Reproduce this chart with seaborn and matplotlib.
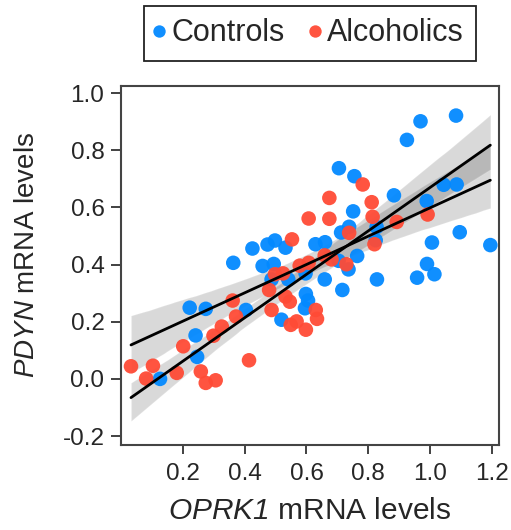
import matplotlib
matplotlib.use('Agg')
import matplotlib.pyplot as plt
import seaborn as sns
import pandas as pd

groups = ['Controls', 'Alcoholics']
colors = ['#0389FF', '#FF4B36']

ctrl_x = [0.969, 1.084, 0.925, 0.705, 0.755, 0.883, 1.044, 1.086, 0.989, 0.751,
          0.827, 0.738, 0.712, 1.096, 1.006, 1.195, 0.824, 0.629, 0.660, 0.764,
          0.704, 0.736, 0.597, 0.659, 0.716, 0.828, 0.990, 0.958, 1.014, 0.598,
          0.605, 0.595, 0.425, 0.474, 0.498, 0.532, 0.363, 0.458, 0.494, 0.487,
          0.541, 0.519, 0.404, 0.222, 0.274, 0.241, 0.246, 0.126]
ctrl_y = [0.901, 0.921, 0.836, 0.737, 0.709, 0.642, 0.679, 0.680, 0.622, 0.586,
          0.531, 0.532, 0.512, 0.513, 0.477, 0.468, 0.485, 0.471, 0.478, 0.430,
          0.413, 0.383, 0.369, 0.348, 0.311, 0.348, 0.402, 0.354, 0.366, 0.297,
          0.274, 0.247, 0.456, 0.470, 0.484, 0.459, 0.406, 0.395, 0.402, 0.348,
          0.348, 0.207, 0.241, 0.249, 0.245, 0.152, 0.077, 0.000]

alc_x = [0.607, 0.553, 0.782, 0.674, 0.811, 0.992, 0.674, 0.814, 0.892, 0.738,
         0.820, 0.659, 0.681, 0.729, 0.607, 0.578, 0.498, 0.524, 0.479, 0.532,
         0.546, 0.630, 0.634, 0.598, 0.487, 0.549, 0.568, 0.361, 0.372, 0.326,
         0.299, 0.201, 0.414, 0.032, 0.103, 0.081, 0.180, 0.258, 0.274, 0.306]
alc_y = [0.561, 0.488, 0.680, 0.633, 0.618, 0.575, 0.560, 0.567, 0.549, 0.511,
         0.471, 0.432, 0.418, 0.401, 0.406, 0.396, 0.366, 0.369, 0.311, 0.288,
         0.270, 0.241, 0.210, 0.172, 0.241, 0.189, 0.201, 0.274, 0.218, 0.183,
         0.151, 0.114, 0.065, 0.044, 0.046, 0.001, 0.021, 0.026, -0.014, -0.005]

x_ticks = [0.2, 0.4, 0.6, 0.8, 1.0, 1.2]
y_ticks = [-0.2, 0.0, 0.2, 0.4, 0.6, 0.8, 1.0]

df = pd.DataFrame({
    'x': ctrl_x + alc_x,
    'y': ctrl_y + alc_y,
    'group': [groups[0]] * len(ctrl_x) + [groups[1]] * len(alc_x),
})

sns.set_style('ticks')
plt.rcParams['font.family'] = ['Liberation Sans', 'DejaVu Sans']
plt.rcParams['axes.unicode_minus'] = False
plt.rcParams['mathtext.fontset'] = 'custom'
plt.rcParams['mathtext.it'] = 'Liberation Sans:italic'
plt.rcParams['mathtext.rm'] = 'Liberation Sans:italic'

fig = plt.figure(figsize=(5.11, 5.30), dpi=100)
ax = fig.add_axes([0.237, 0.160, 0.7395, 0.678])

sns.scatterplot(data=df, x='x', y='y', hue='group', hue_order=groups,
                palette=colors, s=110, linewidth=0, alpha=0.95, ax=ax, zorder=2)

ax.set_xlim(df['x'].min(), df['x'].max())
for g in groups:
    sns.regplot(data=df[df['group'] == g], x='x', y='y', scatter=False,
                truncate=False, color='black', ci=95, seed=3, ax=ax,
                line_kws={'lw': 2, 'zorder': 4})

ax.set_xlim(0.0, 1.223)
ax.set_ylim(-0.232, 1.025)
ax.set_xticks(x_ticks)
ax.set_yticks(y_ticks)
ax.set_xticklabels([f'{v:.1f}' for v in x_ticks])
ax.set_yticklabels([f'{v:.1f}' for v in y_ticks])
ax.tick_params(labelsize=17.5, length=7, width=1.3, color='#333333', pad=5)
ax.tick_params(axis='x', length=6.5, pad=6)

for sp in ax.spines.values():
    sp.set_visible(True)
    sp.set_linewidth(1.5)
    sp.set_color('#444444')

ax.set_xlabel(r'$\it{OPRK1}$ mRNA levels', fontsize=21.5, labelpad=9)
ax.set_ylabel(r'$\it{PDYN}$ mRNA levels', fontsize=20)
ax.yaxis.set_label_coords(-0.214, 0.53)

leg = ax.legend(loc='lower center', bbox_to_anchor=(0.5, 1.070), ncol=2,
                fontsize=22, frameon=True, fancybox=False, framealpha=1,
                edgecolor='#222222', borderaxespad=0, markerscale=0.85,
                handletextpad=0.3, columnspacing=0.9, borderpad=0.4,
                handlelength=0.2)
leg.get_frame().set_linewidth(1.3)

fig.savefig('out.png', dpi=100)
